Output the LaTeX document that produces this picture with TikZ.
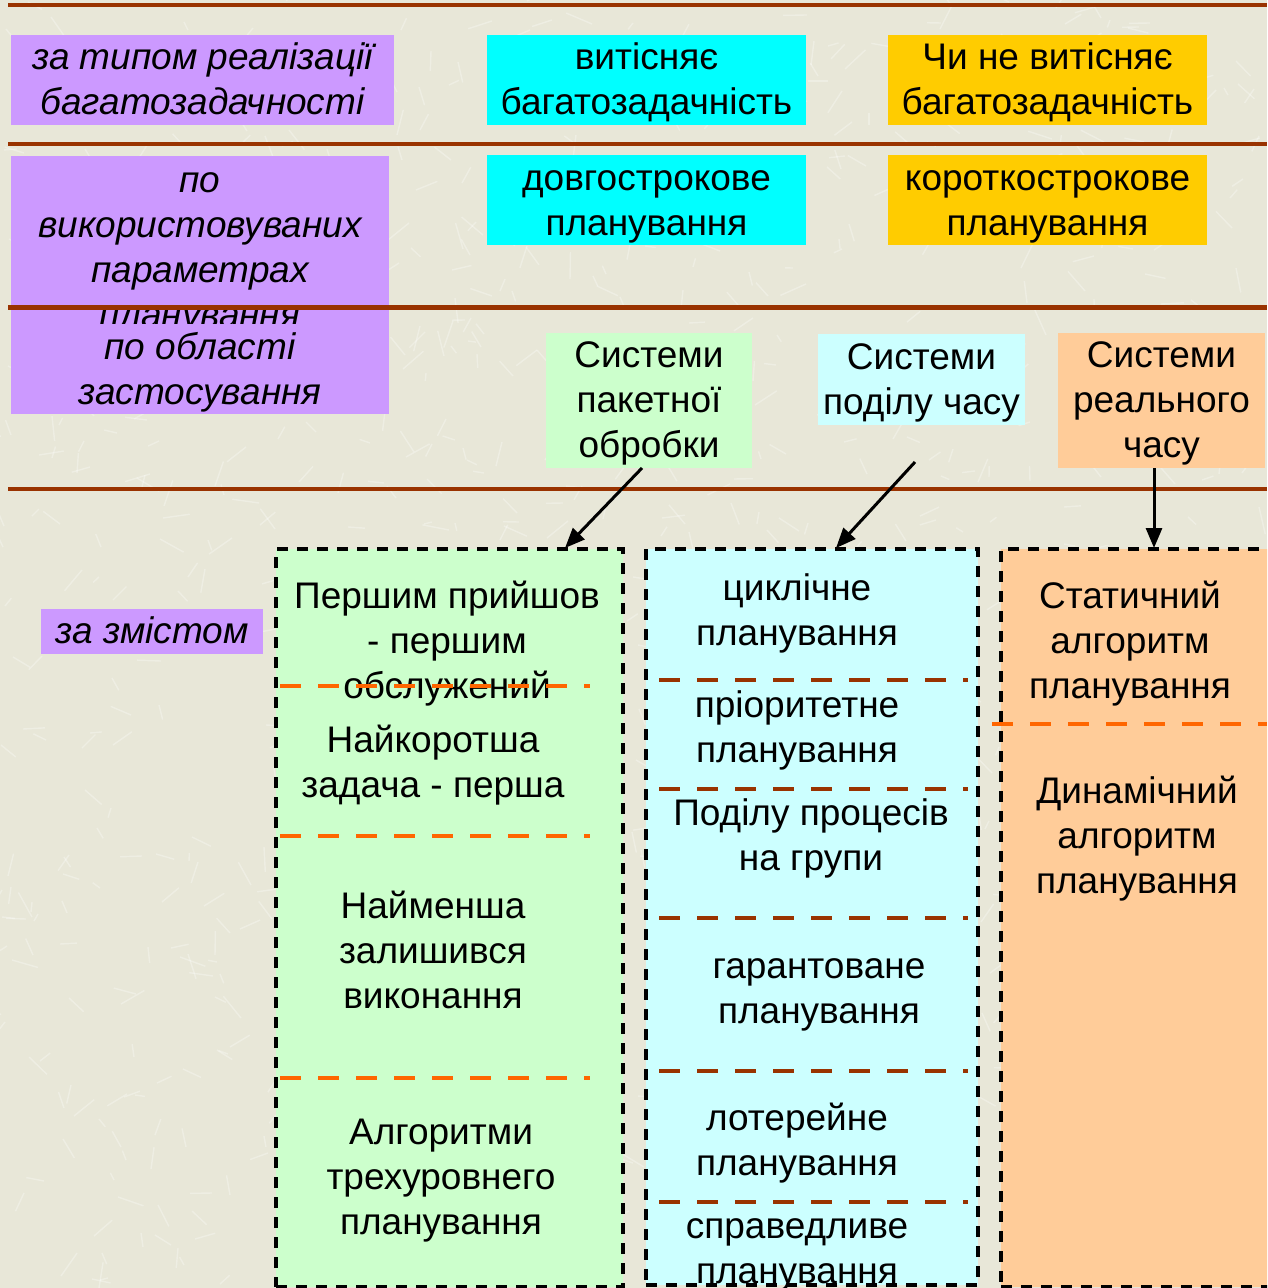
\documentclass[tikz,border=0pt]{standalone}
\usepackage{fontspec}
\setmainfont{Liberation Sans}
\usetikzlibrary{arrows.meta}

\definecolor{paper}{HTML}{E8E7D8}
\definecolor{rule}{HTML}{993300}
\definecolor{lilac}{HTML}{CC99FF}
\definecolor{aqua}{HTML}{00FFFF}
\definecolor{gold}{HTML}{FFCC00}
\definecolor{mint}{HTML}{CCFFCC}
\definecolor{ice}{HTML}{CCFFFF}
\definecolor{peach}{HTML}{FFCC99}
\definecolor{tang}{HTML}{FF6600}

% centred multi-line text with uniform line boxes, set slightly low
\newcommand{\ml}[1]{\raisebox{-1.75pt}[\height][\depth]{\begin{tabular}{@{}c@{}}#1\end{tabular}}}
\newcommand{\fs}{\fontsize{18.5}{22.5}\selectfont}

\begin{document}
\begin{tikzpicture}[x=0.5pt,y=-0.5pt,
  every node/.style={font=\fs, inner sep=0pt, outer sep=0pt},
  bx/.style 2 args={minimum width=#1*0.5pt, minimum height=#2*0.5pt},
  lbl/.style={fill=lilac, font=\fs\itshape},
  column/.style={draw=black, line width=1.6pt, dash pattern=on 5.5pt off 4.5pt},
  hrule/.style={draw=rule, line width=2.3pt},
  sepO/.style={draw=tang, line width=2.2pt, dash pattern=on 10.5pt off 8.5pt},
  sepB/.style={draw=rule, line width=2.2pt, dash pattern=on 10.5pt off 8.5pt},
  arr/.style={draw=black, line width=1.5pt, -{Triangle[length=10pt,width=8pt]}},
  fibre/.style={draw=white, opacity=0.3, line width=0.7pt}
]
\useasboundingbox (0,0) rectangle (1267,1288);
\fill[paper] (0,0) rectangle (1267,1288);
\clip (0,0) rectangle (1267,1288);

% fibrous paper texture
\pgfmathsetseed{4242}
\foreach \i in {1,...,1100} {
  \pgfmathsetmacro{\px}{random(0,1267)}
  \pgfmathsetmacro{\py}{random(0,1288)}
  \pgfmathsetmacro{\pa}{random(0,359)}
  \pgfmathsetmacro{\pl}{random(8,28)}
  \draw[fibre] (\px,\py) -- ++(\pa:\pl);
}

% classification criteria and their variants
\node[lbl, bx={383}{90}] (crit1) at (202.5,80) {\ml{за типом реалізації\\багатозадачності}};
\node[fill=aqua, bx={319}{90}] (pre) at (646.5,80) {\ml{витісняє\\багатозадачність}};
\node[fill=gold, bx={319}{90}] (nopre) at (1047.5,80) {\ml{Чи не витісняє\\багатозадачність}};

\node[lbl, bx={378}{184}] (crit2) at (200,248) {\ml{по\\використовуваних\\параметрах\\планування}};
\node[fill=aqua, bx={319}{89}] (long) at (646.5,200.5) {\ml{довгострокове\\планування}};
\node[fill=gold, bx={319}{89}] (short) at (1047.5,200.5) {\ml{короткострокове\\планування}};

\node[lbl, bx={378}{83}] (crit3) at (200,369.5) {\ml{по області\\застосування}};
\node[fill=mint, bx={206}{131}] (batch) at (649,400.5) {\ml{Системи\\пакетної\\обробки}};
\node[fill=ice, bx={207}{89}] (tshare) at (921.5,379.5) {\ml{Системи\\поділу часу}};
\node[fill=peach, bx={207}{131}] (rtime) at (1161.5,400.5) {\ml{Системи\\реального\\часу}};

\node[lbl, bx={222}{44}] (crit4) at (152,631) {\ml{за змістом}};

% horizontal rules between the rows
\draw[hrule] (8,5) -- (1267,5);
\draw[hrule] (8,144) -- (1267,144);
\draw[hrule] (8,307.5) -- (1267,307.5);
\draw[hrule] (8,489) -- (1267,489);

% algorithm columns
\node[column, fill=mint, bx={347}{738}] (colA) at (449.5,918) {};
\node[column, fill=ice, bx={332}{736}] (colB) at (812,917) {};
\node[column, fill=peach, bx={280}{738}] (colC) at (1141,918) {};

% batch systems
\node (a1) at (447,640.7) {\ml{Першим прийшов\\- першим\\обслужений}};
\node (a2) at (433,762) {\ml{Найкоротша\\задача - перша}};
\node (a3) at (433,950.7) {\ml{Найменша\\залишився\\виконання}};
\node (a4) at (441,1177) {\ml{Алгоритми\\трехуровнего\\планування}};
\draw[sepO] (280,686) -- (590,686);
\draw[sepO] (280,836) -- (590,836);
\draw[sepO] (280,1078) -- (590,1078);

% time-sharing systems
\node (b1) at (797,610.5) {\ml{циклічне\\планування}};
\node (b2) at (797,727) {\ml{пріоритетне\\планування}};
\node (b3) at (811,835.5) {\ml{Поділу процесів\\на групи}};
\node (b4) at (819,988.5) {\ml{гарантоване\\планування}};
\node (b5) at (797,1140) {\ml{лотерейне\\планування}};
\node (b6) at (797,1248) {\ml{справедливе\\планування}};
\draw[sepB] (659,680) -- (968,680);
\draw[sepB] (659,789) -- (968,789);
\draw[sepB] (659,918) -- (968,918);
\draw[sepB] (659,1071) -- (968,1071);
\draw[sepB] (659,1202) -- (968,1202);

% real-time systems
\node (c1) at (1130,640.7) {\ml{Статичний\\алгоритм\\планування}};
\node (c2) at (1137,836.3) {\ml{Динамічний\\алгоритм\\планування}};
\draw[sepO] (992,724) -- (1267,724);

% links from system types to their algorithms
\coordinate (tA) at (565,548);
\coordinate (tB) at (836,548);
\coordinate (tC) at (1154,548);
\coordinate (sB) at (915,462);
\draw[arr] ([xshift=-3.5pt]batch.south) -- (tA);
\draw[arr] (sB) -- (tB);
\draw[arr] ([xshift=-3.75pt]rtime.south) -- (tC);
\end{tikzpicture}
\end{document}
